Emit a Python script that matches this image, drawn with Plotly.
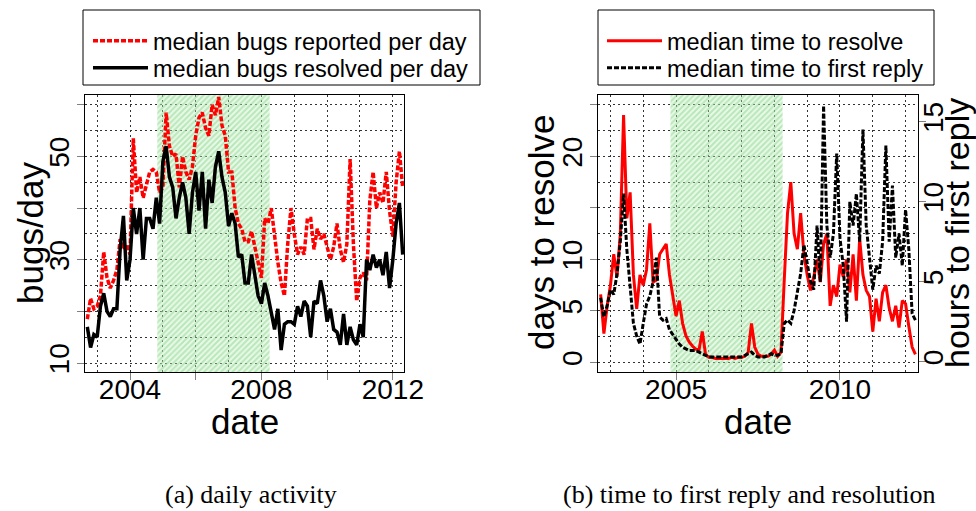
import plotly.graph_objects as go

# ---------------- data ----------------
# common time grid (decimal years), one sample every 0.1 year
years = [round(2002.7 + 0.1 * i, 1) for i in range(97)]

# (a) daily activity
bugs_reported = [
    18.5, 22.5, 20.5, 21, 23, 31.5, 26.5, 24.5, 26, 28,
    34, 32, 33, 31, 53.5, 43, 46, 42, 44.5, 47,
    47.5, 47, 43, 44, 58.5, 52, 50, 50.5, 44, 50,
    47, 45.5, 48, 54, 57.5, 58.5, 55.5, 54, 60, 58,
    61.5, 56, 54, 47, 47, 40, 37, 36, 33.5, 33.5,
    35.5, 32.5, 29, 26.5, 38, 37, 40, 34, 29.5, 25.5,
    23, 33, 40, 35, 31, 32.5, 31, 38, 38, 32,
    36, 34, 35, 32.5, 30, 32.5, 37, 32, 29.5, 33,
    49.5, 33, 22, 26.5, 27.5, 26, 41.5, 47, 40, 43,
    41, 47, 39.5, 34.5, 45, 51, 44,
]
bugs_resolved = [
    17, 13, 15.5, 15, 21, 23.5, 20, 19, 20.5, 20.5,
    32, 38.5, 26, 30, 40, 35, 40, 30, 38, 38,
    36, 42, 37, 49, 52, 46, 44, 38, 42, 45,
    42, 35, 43, 47, 39.5, 47, 36, 45.5, 41, 48,
    51, 46, 43, 36.5, 39, 37, 30.5, 31, 25.5, 25.5,
    31, 27, 23, 21.5, 25.5, 23, 20, 16.5, 20.5, 12.5,
    17.5, 18, 18, 17.5, 21, 19, 22, 21, 15, 22,
    21.5, 26, 23, 18, 20.5, 16.5, 16, 13.5, 19.5, 13.5,
    17, 14.5, 13.5, 17.5, 15, 30, 28, 31, 28.5, 30,
    27, 31.5, 24.5, 30, 37, 41, 31,
]

# (b) time to first reply and resolution
days_to_resolve = [
    6.6, 2.8, 5.5, 7.5, 10.5, 8.3, 12.5, 24.0, 14.0, 16.5,
    8.5, 5.2, 8.5, 7.5, 9.0, 13.5, 7.8, 8.0, 10.5, 11.0,
    11.5, 8.5, 6.5, 4.5, 6.0, 3.8, 2.6, 2.0, 1.6, 1.3,
    1.2, 3.0, 0.8, 0.5, 0.5, 0.4, 0.4, 0.4, 0.4, 0.4,
    0.5, 0.4, 0.5, 0.5, 0.6, 1.0, 3.8, 1.5, 0.8, 0.6,
    0.6, 0.6, 0.8, 1.2, 0.6, 1.0, 8.0, 14.5, 17.5, 12.5,
    11.0, 14.5, 10.5, 8.5, 7.0, 8.3, 10.0, 7.8, 11.5, 12.5,
    5.5, 7.5, 6.4, 9.5, 8.3, 10.0, 6.8, 10.5, 6.0, 12.0,
    8.5, 7.0, 6.4, 3.0, 6.2, 4.0, 6.8, 7.5, 5.3, 4.0,
    5.5, 3.4, 6.0, 5.7, 3.5, 1.5, 0.8,
]
hours_to_first_reply = [
    4.0, 2.8, 3.5, 4.5, 4.2, 5.5, 7.5, 10.5, 7.0, 4.5,
    2.4, 1.6, 1.1, 2.4, 3.6, 4.1, 5.0, 6.5, 2.8, 2.6,
    2.7, 2.0, 1.7, 1.4, 1.1, 0.9, 0.8, 0.7, 0.7, 0.7,
    0.6, 0.5, 0.4, 0.3, 0.3, 0.3, 0.3, 0.3, 0.3, 0.3,
    0.3, 0.3, 0.3, 0.3, 0.4, 0.5, 0.6, 0.4, 0.3, 0.3,
    0.3, 0.4, 0.5, 0.4, 0.4, 0.5, 2.4, 2.6, 2.4, 3.2,
    4.5, 5.5, 7.3, 6.0, 5.0, 4.5, 8.5, 5.0, 16.0, 8.5,
    6.5, 8.0, 13.0, 7.7, 6.0, 2.5, 10.0, 8.5, 10.5, 7.5,
    14.5, 8.5, 6.5, 4.5, 6.0, 5.5, 7.5, 13.5, 7.5, 11.0,
    6.5, 8.0, 6.0, 9.5, 7.0, 3.0, 2.6,
]

# highlighted period
shade_start, shade_end = 2004.83, 2008.25

# ticks
a_xticks = [2004, 2006, 2008, 2010, 2012]
a_xticktext = ["2004", "", "2008", "", "2012"]
a_xminor = [2003, 2005, 2007, 2009, 2011]
a_yticks = [10, 20, 30, 40, 50, 60]
a_yticktext = ["10", "", "30", "", "50", ""]
a_yminor = [15, 25, 35, 45, 55]

b_xticks = [2005, 2010]
b_xticktext = ["2005", "2010"]
b_xminor = [2003, 2004, 2006, 2007, 2008, 2009, 2011, 2012]
b_yticks = [0, 5, 10, 15, 20, 25]
b_yticktext = ["0", "5", "10", "", "20", ""]
b_yminor = [2.5, 7.5, 12.5, 17.5, 22.5]
b_y2ticks = [0, 5, 10, 15]

# ---------------- figure ----------------
FONT = "Liberation Sans, Arial, Helvetica, sans-serif"
SERIF = "Liberation Serif, Times New Roman, serif"
GRID = "#333333"
W, H = 976, 511

fig = go.Figure()

for xa, ya in [("x", "y"), ("x2", "y2")]:
    fig.add_trace(go.Scatter(
        x=[shade_start, shade_end, shade_end, shade_start, shade_start],
        y=[-100, -100, 200, 200, -100],
        mode="none", fill="toself",
        fillcolor="rgba(0,0,0,0)",
        fillpattern=dict(shape="/", fgcolor="#86d886",
                         bgcolor="rgba(190,235,190,0.35)", size=4, solidity=0.5),
        showlegend=False, hoverinfo="skip", xaxis=xa, yaxis=ya,
    ))

fig.add_trace(go.Scatter(
    x=years, y=bugs_reported, mode="lines", name="median bugs reported per day",
    line=dict(color="red", width=3.5, dash="5px,2px"),
    xaxis="x", yaxis="y", legend="legend",
))
fig.add_trace(go.Scatter(
    x=years, y=bugs_resolved, mode="lines", name="median bugs resolved per day",
    line=dict(color="black", width=3.5),
    xaxis="x", yaxis="y", legend="legend2",
))
fig.add_trace(go.Scatter(
    x=years, y=days_to_resolve, mode="lines", name="median time to resolve",
    line=dict(color="red", width=3),
    xaxis="x2", yaxis="y2", legend="legend3",
))
fig.add_trace(go.Scatter(
    x=years, y=hours_to_first_reply, mode="lines", name="median time to first reply",
    line=dict(color="black", width=3, dash="5px,2px"),
    xaxis="x2", yaxis="y3", legend="legend4",
))

common_axis = dict(
    showline=True, linecolor="black", linewidth=1, mirror=True,
    ticks="outside", ticklen=7, tickwidth=1, tickcolor="#808080",
    tickfont=dict(size=28, color="black", family=FONT),
    zeroline=False, automargin=False,
    showgrid=True, gridcolor=GRID, griddash="2px,3px", gridwidth=1,
)

def minor(vals):
    return dict(tickmode="array", tickvals=vals, ticks="", showgrid=True,
                gridcolor=GRID, griddash="2px,3px", gridwidth=1)

def legend_at(x_px, y_px):
    return dict(x=x_px / W, y=1 - y_px / H, xanchor="left", yanchor="middle",
                bgcolor="rgba(0,0,0,0)", borderwidth=0, itemwidth=55,
                font=dict(size=23.5, family=FONT, color="black"))

def axis_title(text, x_px, y_px, angle=0, size=35):
    return dict(text=text, xref="paper", yref="paper", x=x_px / W, y=1 - y_px / H,
                xanchor="center", yanchor="middle", textangle=angle, showarrow=False,
                font=dict(size=size, color="black", family=FONT))

ydom = [1 - 372.3 / H, 1 - 95 / H]

fig.update_layout(
    width=W, height=H,
    margin=dict(l=0, r=0, t=0, b=0),
    paper_bgcolor="white", plot_bgcolor="white",
    font=dict(family=FONT, color="black"),
    showlegend=True,
    xaxis=dict(common_axis, domain=[85 / W, 404 / W], anchor="y",
               range=[2002.63, 2012.34], tickmode="array", ticklabelstandoff=-15,
               tickvals=a_xticks, ticktext=a_xticktext, minor=minor(a_xminor)),
    yaxis=dict(common_axis, domain=ydom, anchor="x", ticklabelstandoff=-3,
               range=[8.2, 61.9], tickmode="array", tickangle=-90,
               tickvals=a_yticks, ticktext=a_yticktext, minor=minor(a_yminor)),
    xaxis2=dict(common_axis, domain=[598 / W, 917.7 / W], anchor="y2",
                range=[2002.62, 2012.37], tickmode="array", ticklabelstandoff=-15,
                tickvals=b_xticks, ticktext=b_xticktext, minor=minor(b_xminor)),
    yaxis2=dict(common_axis, domain=ydom, anchor="x2", ticklabelstandoff=-3,
                range=[-0.95, 25.95], tickmode="array", tickangle=-90,
                tickvals=b_yticks, ticktext=b_yticktext, minor=minor(b_yminor)),
    yaxis3=dict(overlaying="y2", anchor="x2", side="right",
                range=[-0.66, 16.66], tickmode="array", tickvals=b_y2ticks,
                tickangle=-90, ticks="outside", ticklen=7, tickwidth=1,
                tickcolor="#808080", showline=False, showgrid=False,
                zeroline=False, automargin=False, ticklabelstandoff=-16,
                tickfont=dict(size=28, color="black", family=FONT)),
    legend=legend_at(88, 41),
    legend2=legend_at(88, 68),
    legend3=legend_at(602, 41),
    legend4=legend_at(602, 68),
    shapes=[
        dict(type="rect", xref="paper", yref="paper",
             x0=83 / W, x1=480 / W, y0=1 - 85 / H, y1=1 - 10 / H,
             line=dict(color="black", width=1), fillcolor="rgba(0,0,0,0)"),
        dict(type="rect", xref="paper", yref="paper",
             x0=598 / W, x1=934 / W, y0=1 - 85 / H, y1=1 - 10 / H,
             line=dict(color="black", width=1), fillcolor="rgba(0,0,0,0)"),
    ],
    annotations=[
        axis_title("date", 244.5, 421),
        axis_title("date", 758, 421),
        axis_title("bugs/day", 31, 233, -90),
        axis_title("days to resolve", 542, 233, -90),
        axis_title("hours to first reply", 957, 233, -90, 34),
        dict(text="(a) daily activity", xref="paper", yref="paper",
             x=251 / W, y=1 - 494 / H, xanchor="center", yanchor="middle",
             showarrow=False, font=dict(family=SERIF, size=26, color="black")),
        dict(text="(b) time to first reply and resolution", xref="paper", yref="paper",
             x=749 / W, y=1 - 494 / H, xanchor="center", yanchor="middle",
             showarrow=False, font=dict(family=SERIF, size=26, color="black")),
    ],
)

fig.write_html("out.html", config={"displayModeBar": False},
               post_script="document.body.style.margin='0px';")
